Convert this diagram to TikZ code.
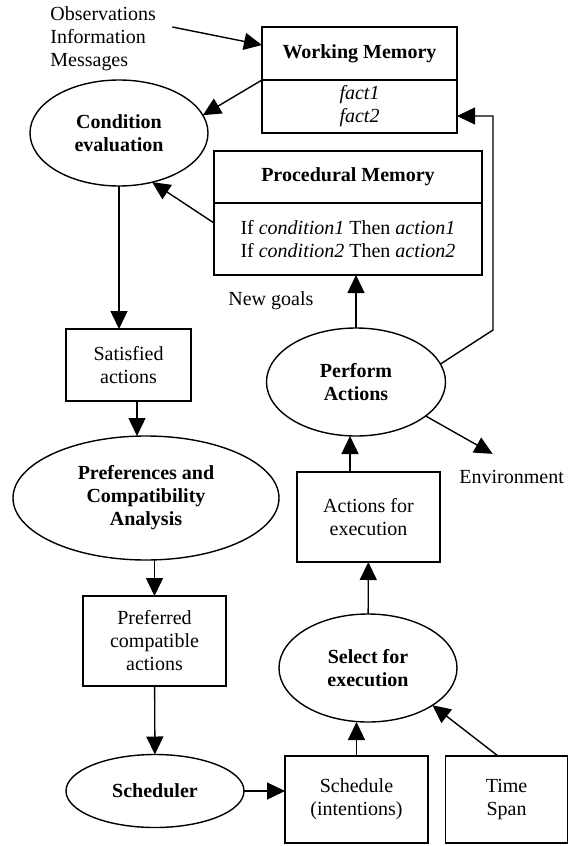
\documentclass[tikz,border=0pt]{standalone}
\usepackage{fontspec}
\setmainfont{Liberation Serif}
\usetikzlibrary{positioning, arrows.meta, shapes.geometric}

\newcommand{\dfont}{\fontsize{10pt}{11.5pt}\selectfont}

\begin{document}
\begin{tikzpicture}[
    x=0.5pt, y=-0.5pt,
    elp/.style={ellipse, draw=black, line width=0.7pt, inner sep=0pt, outer sep=0pt, align=center, font=\dfont\bfseries},
    box/.style={rectangle, draw=black, line width=0.7pt, inner sep=0pt, outer sep=0pt, align=center, font=\dfont},
    lbl/.style={inner sep=0pt, align=left, font=\dfont},
    arr/.style={-{Triangle[length=9pt, width=8.5pt]}, line width=0.7pt},
]
\useasboundingbox (0,0) rectangle (569,846);

% memories
\node [box, minimum width=97.5pt, minimum height=26.5pt, font=\dfont\bfseries] (wmtop) at (359.5,53.5) {Working Memory};
\node [box, minimum width=97.5pt, minimum height=26.5pt, below=0pt of wmtop, font=\dfont\itshape] (wmbot) {fact1\\fact2};

\node [box, minimum width=134pt, minimum height=26pt, font=\dfont\bfseries] (proctop) at (348,177) {Procedural Memory};
\node [box, minimum width=134pt, minimum height=36pt, below=0pt of proctop] (procbot) {
  If \textit{condition1} Then \textit{action1}\\
  If \textit{condition2} Then \textit{action2}
};
\draw [line width=1.4pt] (proctop.south west) -- (proctop.south east);

% left column
\node [elp, minimum width=89pt, minimum height=53pt] (cond) at (119,133) {Condition\\evaluation};
\node [box, minimum width=62.5pt, minimum height=36pt] (sat) at (128.5,365) {Satisfied\\actions};
\node [elp, minimum width=133pt, minimum height=62pt] (pref) at (146,498) {Preferences and\\Compatibility\\Analysis};
\node [box, minimum width=71.5pt, minimum height=45pt] (prefd) at (154.5,641) {Preferred\\compatible\\actions};
\node [elp, minimum width=89pt, minimum height=36.5pt] (sched) at (155,791) {Scheduler};

% right column
\node [box, minimum width=71.5pt, minimum height=43.5pt] (plan) at (356.5,799.5) {Schedule\\(intentions)};
\node [box, minimum width=61pt, minimum height=43.5pt] (span) at (506.5,799.5) {Time\\Span};
\node [elp, minimum width=89pt, minimum height=54pt] (select) at (368,668) {Select for\\execution};
\node [box, minimum width=71.5pt, minimum height=45pt] (todo) at (368.5,517) {Actions for\\execution};
\node [elp, minimum width=89.5pt, minimum height=54pt] (perform) at (356,382) {Perform\\Actions};

% free labels
\node [lbl, anchor=north west] (obs) at (50,6) {Observations\\Information\\Messages};
\node [lbl, anchor=base west] (goals) at (228,305) {New goals};
\node [lbl, anchor=base west] (env) at (459,483) {Environment};

\draw [arr] ([xshift=8pt, yshift=-10.5pt]obs.north east) -- ([yshift=4.25pt]wmtop.west);
\draw [arr] (wmbot.north west) -- (cond.12);
\draw [arr] ([yshift=-10pt]procbot.north west) -- (cond.-56);
\draw [arr] (cond.south) -- (cond.south |- sat.north);
\draw [arr] ([xshift=4.25pt]sat.south) -- ([xshift=4.25pt]sat.south |- pref.north);
\draw [arr] (prefd.north |- pref.south) -- (prefd.north);
\draw [arr] (prefd) -- (sched);
\draw [arr] (sched.east) -- (sched.east -| plan.west);
\draw [arr] (plan.north) -- (plan.north |- select.south);
\draw [arr] ([xshift=-4.25pt]span.north) -- (select.-30);
\draw [arr] (select) -- (todo);
\draw [arr] ([xshift=-9.25pt]todo.north) -- ([xshift=-9.25pt]todo.north |- perform.south);
\draw [arr] (perform.north) -- (perform.north |- procbot.south);
\coordinate (turn) at (493,330);
\draw [arr] (perform.12) -- (turn) |- ([yshift=-4.75pt]wmbot.east);
\draw [arr] (perform.-26) -- ([shift={(-9.5pt,7.75pt)}]env.north);

\end{tikzpicture}
\end{document}
